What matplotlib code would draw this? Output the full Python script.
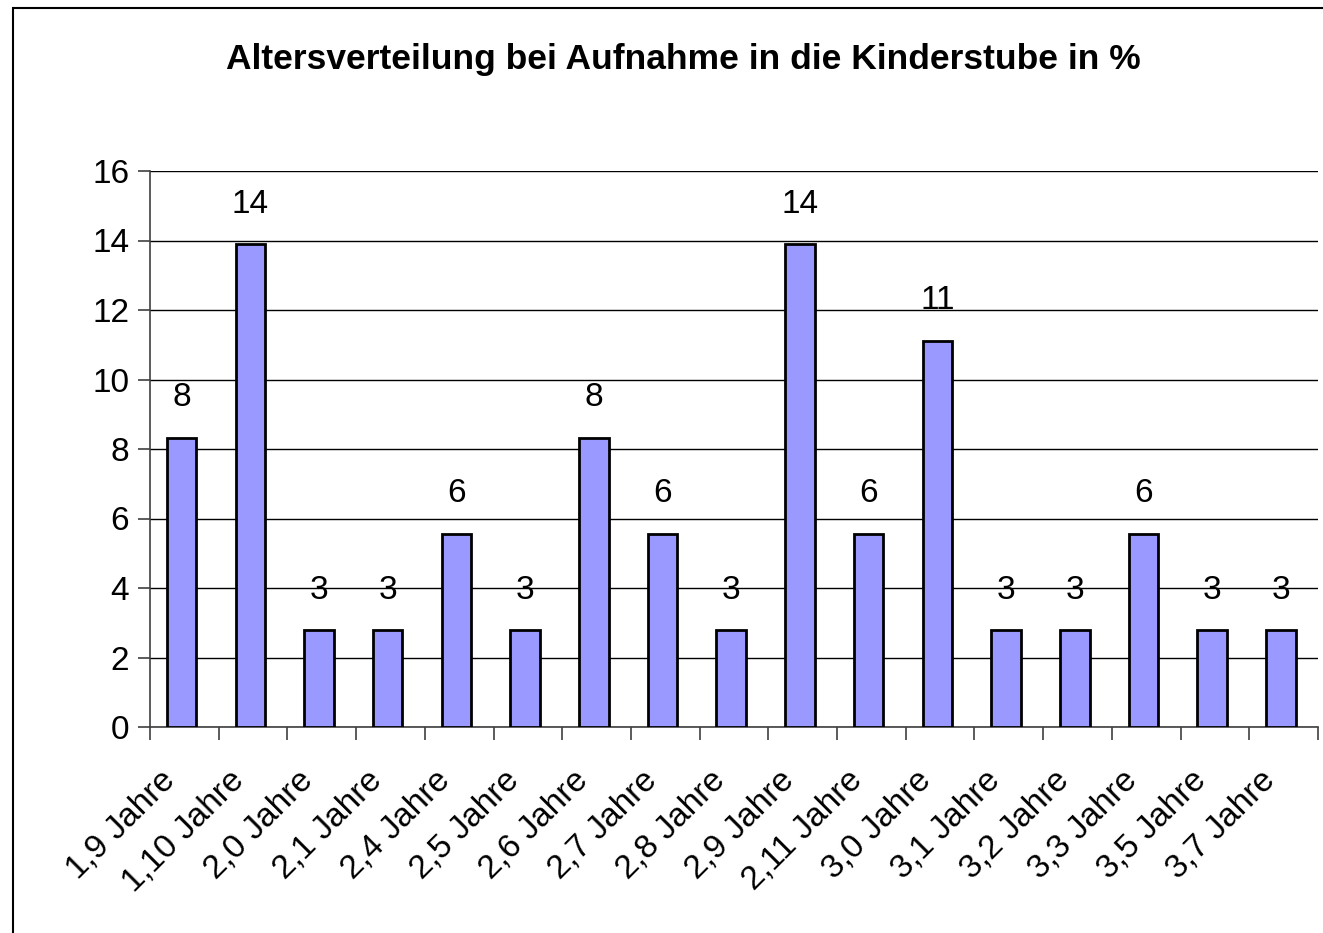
import numpy as np
import matplotlib.pyplot as plt
from matplotlib.patches import Rectangle

plt.rcParams['font.family'] = ['Liberation Sans', 'DejaVu Sans']

# Altersgruppen und Anteile in %
kategorien = ['1,9 Jahre', '1,10 Jahre', '2,0 Jahre', '2,1 Jahre', '2,4 Jahre',
              '2,5 Jahre', '2,6 Jahre', '2,7 Jahre', '2,8 Jahre', '2,9 Jahre',
              '2,11 Jahre', '3,0 Jahre', '3,1 Jahre', '3,2 Jahre', '3,3 Jahre',
              '3,5 Jahre', '3,7 Jahre']
anteile = [8.33, 13.89, 2.78, 2.78, 5.56, 2.78, 8.33, 5.56, 2.78, 13.89,
           5.56, 11.11, 2.78, 2.78, 5.56, 2.78, 2.78]
beschriftung = ['8', '14', '3', '3', '6', '3', '8', '6', '3', '14',
                '6', '11', '3', '3', '6', '3', '3']

fig = plt.figure(figsize=(13.23, 9.33), dpi=100)
ax = fig.add_axes([150/1323, 206/933, 1168/1323, 556/933])

x = np.arange(len(kategorien))
bars = ax.bar(x - 0.04, anteile, width=0.43, color='#9999FF', edgecolor='black',
              linewidth=2, zorder=3)

for xi, v, t in zip(x, anteile, beschriftung):
    ax.annotate(t, (xi - 0.04, v), xytext=(0, 29), textcoords='offset points',
                ha='center', va='center', fontsize=24)

ax.set_xlim(-0.5, len(kategorien) - 0.5)
ax.set_ylim(0, 16)
ax.set_yticks(np.arange(0, 17, 2))
ax.yaxis.grid(True, color='black', linewidth=1, zorder=0)
ax.set_axisbelow(True)

# Beschriftungen etwas nach links, wie im Original
ax.set_xticks(x - 0.36)
ax.set_xticklabels(kategorien, rotation=45, ha='right', rotation_mode='anchor',
                   fontsize=24)
ax.set_xticks(np.arange(-0.5, len(kategorien), 1), minor=True)
ax.tick_params(axis='x', which='major', length=0, pad=27)
ax.tick_params(axis='x', which='minor', length=9, width=1.2, color='#404040')
ax.tick_params(axis='y', length=9, width=1.2, color='#404040', labelsize=24, pad=6)

for s in ['top', 'right']:
    ax.spines[s].set_visible(False)
ax.spines['left'].set_color('#404040')
ax.spines['bottom'].set_color('#404040')
ax.spines['left'].set_linewidth(1.2)
ax.spines['bottom'].set_linewidth(1.2)

fig.text(683/1323, 1 - 59/933, 'Altersverteilung bei Aufnahme in die Kinderstube in %',
         ha='center', va='center', fontsize=25.5, fontweight='bold')

fig.patches.append(Rectangle((13/1323, -0.05), 1.2, 1.05 - 8/933, transform=fig.transFigure,
                             fill=False, edgecolor='black', linewidth=1.5))

fig.savefig('out.png', dpi=100, facecolor='white')
